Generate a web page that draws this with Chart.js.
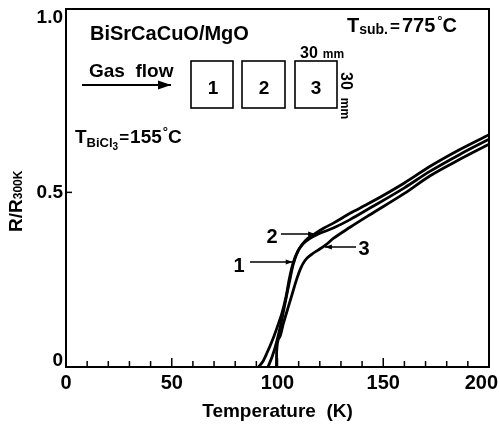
<!DOCTYPE html>
<html>
<head>
<meta charset="utf-8">
<script src="https://cdn.jsdelivr.net/npm/chart.js@4.4.0/dist/chart.umd.min.js"></script>
<style>
  html, body { margin: 0; padding: 0; background: #fff; }
  #wrap { width: 500px; height: 426px; }
</style>
</head>
<body>
<div id="wrap"><canvas id="rt" width="500" height="426"></canvas></div>
<script>
// R/R300K vs temperature for the three substrate positions
var temps1 = [91, 93, 95, 97.5, 100.5, 102, 104, 105.5, 107.4, 109.5, 112, 115, 119, 126.4, 134.3, 143.7, 160, 172, 186, 200];
var ratio1 = [0, 0.015, 0.04, 0.075, 0.125, 0.152, 0.2, 0.25, 0.298, 0.33, 0.352, 0.367, 0.38, 0.398, 0.422, 0.455, 0.513, 0.56, 0.608, 0.652];

var temps2 = [95.5, 97.5, 99.5, 101.5, 103.5, 105.5, 107.5, 110, 113.5, 117.7, 122, 126.4, 134.3, 143.7, 160, 172, 186, 200];
var ratio2 = [0, 0.03, 0.07, 0.12, 0.18, 0.24, 0.295, 0.336, 0.364, 0.382, 0.398, 0.412, 0.44, 0.47, 0.527, 0.574, 0.622, 0.665];

var temps3 = [99.5, 99.6, 101, 102.8, 105, 107, 109, 111, 113, 116, 119, 122.5, 126.4, 134.3, 143.7, 160, 172, 186, 200];
var ratio3 = [0, 0.045, 0.085, 0.125, 0.17, 0.21, 0.25, 0.283, 0.305, 0.322, 0.334, 0.348, 0.368, 0.4, 0.436, 0.497, 0.547, 0.594, 0.638];

var xTicks = [0, 50, 100, 150, 200];
var xTickLabels = ['0', '50', '100', '150', '200'];
var yTicks = [0, 0.5, 1.0];
var yTickLabels = ['0', '0.5', '1.0'];
var xMinorStep = 10;

var FONT = '"Liberation Sans", Arial, Helvetica, sans-serif';

function pts(xs, ys) {
    return xs.map(function(x, i) { return {x: x, y: ys[i]}; });
}

function curve(xs, ys) {
    return {
        data: pts(xs, ys),
        borderColor: '#000',
        borderWidth: 2.8,
        pointRadius: 0,
        fill: false,
        cubicInterpolationMode: 'monotone'
    };
}

// draw a run of text pieces (size, vertical shift) one after another
function runs(ctx, x, y, parts) {
    parts.forEach(function(p) {
        ctx.font = 'bold ' + p.s + 'px ' + FONT;
        ctx.fillText(p.t, x, y + (p.dy || 0));
        x += ctx.measureText(p.t).width + (p.gap || 0);
    });
}

function arrow(ctx, x1, y1, x2, y2, head) {
    var a = Math.atan2(y2 - y1, x2 - x1);
    ctx.beginPath();
    ctx.moveTo(x1, y1);
    ctx.lineTo(x2, y2);
    ctx.stroke();
    ctx.beginPath();
    ctx.moveTo(x2, y2);
    ctx.lineTo(x2 - head * Math.cos(a) + head * 0.35 * Math.sin(a), y2 - head * Math.sin(a) - head * 0.35 * Math.cos(a));
    ctx.lineTo(x2 - head * Math.cos(a) - head * 0.35 * Math.sin(a), y2 - head * Math.sin(a) + head * 0.35 * Math.cos(a));
    ctx.closePath();
    ctx.fill();
}

var decor = {
    id: 'decor',
    afterDraw: function(chart) {
        var ctx = chart.ctx, a = chart.chartArea;
        var sx = chart.scales.x, sy = chart.scales.y;
        ctx.save();
        ctx.strokeStyle = '#000';
        ctx.fillStyle = '#000';

        // frame
        ctx.lineWidth = 2;
        ctx.strokeRect(a.left, a.top, a.right - a.left, a.bottom - a.top);

        // inward ticks
        ctx.lineWidth = 1.5;
        for (var t = 0; t <= 200; t += xMinorStep) {
            var px = sx.getPixelForValue(t);
            var len = (t % 50 === 0) ? 9 : 6;
            ctx.beginPath();
            ctx.moveTo(px, a.bottom);
            ctx.lineTo(px, a.bottom - len);
            ctx.stroke();
        }
        var py = sy.getPixelForValue(0.5);
        ctx.beginPath();
        ctx.moveTo(a.left, py);
        ctx.lineTo(a.left + 6, py);
        ctx.stroke();

        ctx.textBaseline = 'alphabetic';

        // tick labels (last one kept inside the canvas)
        ctx.font = 'bold 20px ' + FONT;
        ctx.textAlign = 'center';
        xTicks.forEach(function(v, i) {
            var w = ctx.measureText(xTickLabels[i]).width;
            var cx = Math.min(sx.getPixelForValue(v), 498 - w / 2);
            ctx.fillText(xTickLabels[i], cx, 389);
        });
        ctx.font = 'bold 19px ' + FONT;
        ctx.textAlign = 'right';
        ctx.textBaseline = 'middle';
        yTicks.forEach(function(v, i) {
            var cy = sy.getPixelForValue(v) - (v === 0 ? 6 : 0);
            ctx.fillText(yTickLabels[i], 63, cy);
        });
        ctx.textBaseline = 'alphabetic';

        // axis titles
        ctx.font = 'bold 19px ' + FONT;
        ctx.textAlign = 'center';
        ctx.fillText('Temperature  (K)', (a.left + a.right) / 2, 417);
        ctx.textAlign = 'left';

        ctx.save();
        ctx.translate(22, 232);
        ctx.rotate(-Math.PI / 2);
        runs(ctx, 0, 0, [{t: 'R/R', s: 19}, {t: '300K', s: 12, dy: 0}]);
        ctx.restore();

        // inset text
        runs(ctx, 90, 40, [{t: 'BiSrCaCuO/MgO', s: 20}]);
        runs(ctx, 347, 32, [
            {t: 'T', s: 20},
            {t: 'sub.', s: 14, dy: 2, gap: 2},
            {t: '=', s: 17, gap: 2},
            {t: '775', s: 20, gap: 2},
            {t: '°', s: 13, dy: -7},
            {t: 'C', s: 20}
        ]);
        runs(ctx, 300, 58, [{t: '30', s: 16, gap: 5}, {t: 'mm', s: 12}]);
        ctx.save();
        ctx.translate(341, 72);
        ctx.rotate(Math.PI / 2);
        runs(ctx, 0, 0, [{t: '30', s: 16, gap: 8}, {t: 'mm', s: 12}]);
        ctx.restore();

        runs(ctx, 89, 77, [{t: 'Gas  flow', s: 19}]);
        ctx.lineWidth = 2;
        arrow(ctx, 82, 85, 171, 85, 13);

        ctx.lineWidth = 1.6;
        ctx.strokeRect(191, 61, 42, 47);
        ctx.strokeRect(242, 61, 43, 47);
        ctx.strokeRect(295, 61, 42, 47);
        ctx.textAlign = 'center';
        ctx.font = 'bold 19px ' + FONT;
        ctx.fillText('1', 213, 94);
        ctx.fillText('2', 264, 94);
        ctx.fillText('3', 316, 94);
        ctx.textAlign = 'left';

        runs(ctx, 75, 143, [
            {t: 'T', s: 19},
            {t: 'BiCl', s: 13, dy: 4},
            {t: '3', s: 10, dy: 7, gap: 1},
            {t: '=', s: 17, gap: 1},
            {t: '155', s: 19, gap: 1},
            {t: '°', s: 13, dy: -7},
            {t: 'C', s: 19}
        ]);

        // curve labels
        ctx.textAlign = 'center';
        ctx.font = 'bold 20px ' + FONT;
        ctx.fillText('1', 239, 272);
        ctx.fillText('2', 272, 243);
        ctx.fillText('3', 364, 255);
        ctx.lineWidth = 1.5;
        arrow(ctx, 250, 262, sx.getPixelForValue(107.2), 262, 7);
        arrow(ctx, 281, 234, sx.getPixelForValue(117.8), 234, 7);
        arrow(ctx, 356, 247, sx.getPixelForValue(122.4), 247, 7);

        ctx.restore();
    }
};

new Chart(document.getElementById('rt').getContext('2d'), {
    type: 'line',
    data: {
        datasets: [curve(temps1, ratio1), curve(temps2, ratio2), curve(temps3, ratio3)]
    },
    options: {
        responsive: false,
        animation: false,
        layout: { padding: { left: 0, right: 11, top: 9, bottom: 0 } },
        plugins: { legend: { display: false }, tooltip: { enabled: false } },
        scales: {
            x: {
                type: 'linear',
                min: 0,
                max: 200,
                grid: { display: false, drawTicks: false },
                border: { display: false },
                ticks: { display: false },
                afterBuildTicks: function(s) { s.ticks = xTicks.map(function(v) { return {value: v}; }); },
                afterFit: function(s) {
                    s.height = 59;
                    s.paddingLeft = 0; s.paddingRight = 0;
                }
            },
            y: {
                type: 'linear',
                min: 0,
                max: 1.025,
                grid: { display: false, drawTicks: false },
                border: { display: false },
                ticks: { display: false },
                afterBuildTicks: function(s) { s.ticks = yTicks.map(function(v) { return {value: v}; }); },
                afterFit: function(s) {
                    s.width = 66;
                    s.paddingTop = 0; s.paddingBottom = 0;
                }
            }
        }
    },
    plugins: [decor]
});
</script>
</body>
</html>
